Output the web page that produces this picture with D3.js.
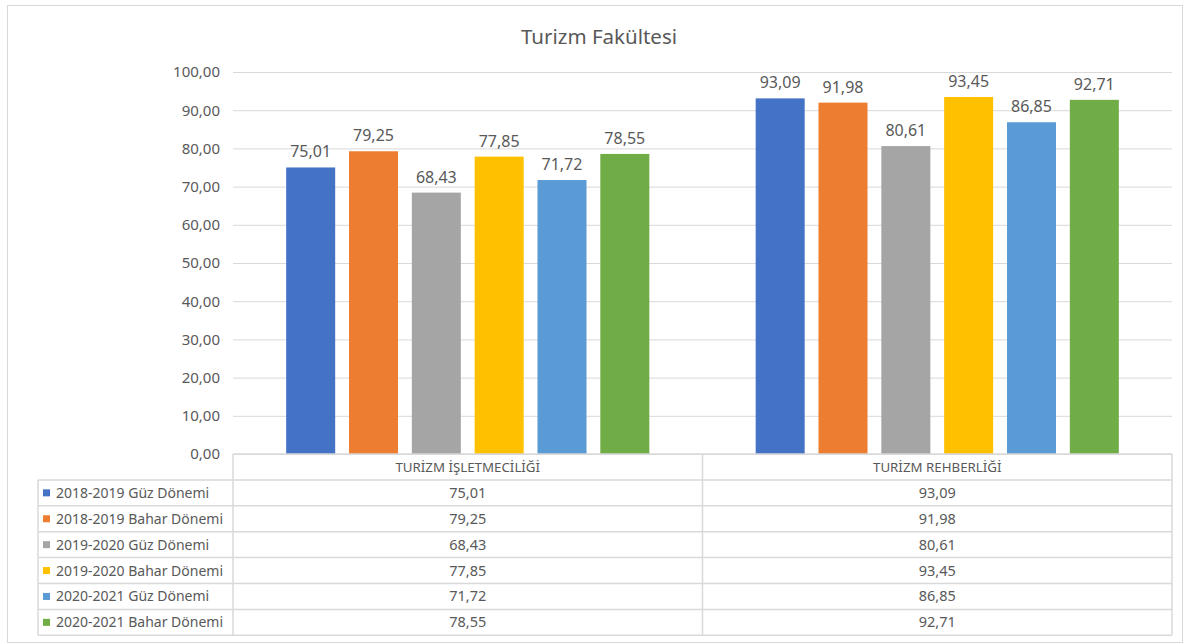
<!DOCTYPE html>
<html>
<head>
<meta charset="utf-8">
<script src="https://cdn.jsdelivr.net/npm/d3@7"></script>
<style>
  html, body { margin: 0; padding: 0; background: #fff; }
  svg { display: block; font-family: "Noto Sans", "Open Sans", sans-serif; }
</style>
</head>
<body>
<svg id="chart" width="1184" height="644"></svg>
<script>
const categories = ['TURİZM İŞLETMECİLİĞİ', 'TURİZM REHBERLİĞİ'];
const seriesNames = [
  '2018-2019 Güz Dönemi',
  '2018-2019 Bahar Dönemi',
  '2019-2020 Güz Dönemi',
  '2019-2020 Bahar Dönemi',
  '2020-2021 Güz Dönemi',
  '2020-2021 Bahar Dönemi'
];
const isletmecilik = [75.01, 79.25, 68.43, 77.85, 71.72, 78.55];
const rehberlik = [93.09, 91.98, 80.61, 93.45, 86.85, 92.71];
const colors = ['#4472C4', '#ED7D31', '#A5A5A5', '#FFC000', '#5B9BD5', '#70AD47'];
const yTicks = [0, 10, 20, 30, 40, 50, 60, 70, 80, 90, 100];

const series = seriesNames.map((name, i) => ({
  name: name,
  color: colors[i],
  values: [isletmecilik[i], rehberlik[i]]
}));

const fmt = v => d3.format('.2f')(v).replace('.', ',');
const textColor = '#595959';
const lineColor = '#d9d9d9';

const plot = {left: 233, right: 1172, top: 72, bottom: 454};
const tableLeft = 38;
const rowH = 25.9;

const svg = d3.select('#chart');

// outer frame
svg.append('rect')
  .attr('x', 7.5).attr('y', 5.5)
  .attr('width', 1175).attr('height', 637)
  .attr('fill', '#fff')
  .attr('stroke', lineColor);

svg.append('text')
  .attr('x', 599).attr('y', 44)
  .attr('text-anchor', 'middle')
  .attr('font-size', 20.5)
  .attr('fill', textColor)
  .text('Turizm Fakültesi');

const y = d3.scaleLinear().domain([0, 100]).range([plot.bottom, plot.top]);

const x0 = d3.scaleBand()
  .domain(categories)
  .range([plot.left, plot.right])
  .paddingInner(0.2265)
  .paddingOuter(0.2265 / 2);

const x1 = d3.scaleBand()
  .domain(seriesNames)
  .range([0, x0.bandwidth()])
  .paddingInner(0.22);

// grid + y labels
const yAxis = svg.append('g')
  .attr('transform', 'translate(' + plot.left + ',0)')
  .call(d3.axisLeft(y).tickValues(yTicks).tickSize(-(plot.right - plot.left)).tickPadding(13).tickFormat(fmt));
yAxis.select('.domain').remove();
yAxis.selectAll('.tick line').attr('stroke', lineColor).attr('stroke-width', 1);
yAxis.selectAll('.tick text')
  .attr('fill', textColor)
  .attr('font-size', 15)
  .attr('font-family', '"Noto Sans", sans-serif');

// bars
const groups = svg.append('g').selectAll('g')
  .data(series)
  .join('g')
  .attr('fill', d => d.color);

groups.selectAll('rect')
  .data(d => d.values.map((v, j) => ({name: d.name, cat: categories[j], value: v})))
  .join('rect')
  .attr('x', d => x0(d.cat) + x1(d.name))
  .attr('y', d => y(d.value))
  .attr('width', x1.bandwidth())
  .attr('height', d => y(0) - y(d.value));

groups.selectAll('text')
  .data(d => d.values.map((v, j) => ({name: d.name, cat: categories[j], value: v})))
  .join('text')
  .attr('x', d => x0(d.cat) + x1(d.name) + x1.bandwidth() / 2)
  .attr('y', d => y(d.value) - 10)
  .attr('text-anchor', 'middle')
  .attr('font-size', 16)
  .attr('fill', textColor)
  .text(d => fmt(d.value));

// data table
const colEdges = [plot.left].concat(categories.map(c => x0(c) - x0.step() * x0.paddingOuter() + x0.step()));
const table = svg.append('g')
  .attr('stroke', lineColor)
  .attr('stroke-width', 1.5)
  .attr('fill', 'none');

// header row
table.append('line')
  .attr('x1', plot.left).attr('x2', plot.right)
  .attr('y1', plot.bottom).attr('y2', plot.bottom);
// row lines
for (let r = 0; r <= series.length; r++) {
  const yy = plot.bottom + rowH * (r + 1);
  table.append('line')
    .attr('x1', tableLeft).attr('x2', plot.right)
    .attr('y1', yy).attr('y2', yy);
}
// vertical lines
table.append('line')
  .attr('x1', tableLeft).attr('x2', tableLeft)
  .attr('y1', plot.bottom + rowH).attr('y2', plot.bottom + rowH * 7);
colEdges.forEach(xv => {
  table.append('line')
    .attr('x1', xv).attr('x2', xv)
    .attr('y1', plot.bottom).attr('y2', plot.bottom + rowH * 7);
});

// header text
svg.append('g').selectAll('text')
  .data(categories)
  .join('text')
  .attr('x', d => x0(d) + x0.bandwidth() / 2)
  .attr('y', plot.bottom + rowH / 2 + 5)
  .attr('text-anchor', 'middle')
  .attr('font-size', 13.3)
  .attr('fill', textColor)
  .text(d => d);

// legend column + values
const rows = svg.append('g').selectAll('g')
  .data(series)
  .join('g')
  .attr('transform', (d, i) => 'translate(0,' + (plot.bottom + rowH * (i + 1)) + ')');

rows.append('rect')
  .attr('x', 43).attr('y', rowH / 2 - 3.5)
  .attr('width', 7).attr('height', 7)
  .attr('fill', d => d.color);

rows.append('text')
  .attr('x', 56).attr('y', rowH / 2 + 5)
  .attr('font-size', 14)
  .attr('fill', textColor)
  .text(d => d.name);

rows.selectAll('text.val')
  .data(d => d.values.map((v, j) => ({cat: categories[j], value: v})))
  .join('text')
  .attr('class', 'val')
  .attr('x', d => x0(d.cat) + x0.bandwidth() / 2)
  .attr('y', rowH / 2 + 5)
  .attr('text-anchor', 'middle')
  .attr('font-size', 14.5)
  .attr('fill', textColor)
  .text(d => fmt(d.value));
</script>
</body>
</html>
